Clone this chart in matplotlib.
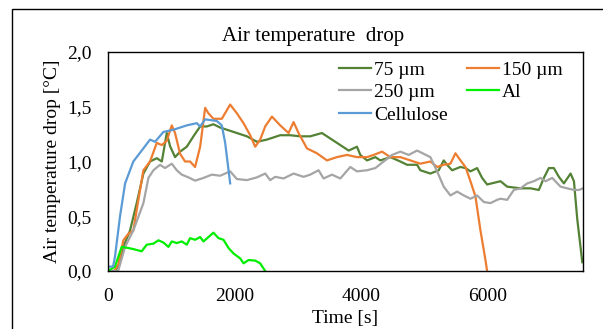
import numpy as np
import matplotlib
matplotlib.use("Agg")
import matplotlib.pyplot as plt
from matplotlib.patches import Rectangle

plt.rcParams['font.family'] = ['Liberation Serif', 'DejaVu Serif']

# 75 um
t75 = [0, 100, 163, 242, 348, 453, 559, 664, 770, 850, 928, 980, 1059, 1138, 1244, 1349,
       1455, 1560, 1665, 1771, 1877, 2035, 2193, 2351, 2509, 2719, 2877, 3035, 3193, 3378,
       3510, 3668, 3800, 3931, 3984, 4090, 4221, 4300, 4458, 4616, 4722, 4880, 4932, 5090,
       5222, 5301, 5354, 5433, 5565, 5644, 5723, 5828, 5907, 5986, 6197, 6303, 6514, 6672,
       6803, 6882, 6961, 7040, 7119, 7198, 7304, 7357, 7410, 7489]
v75 = [0.0, 0.0, 0.04, 0.22, 0.37, 0.62, 0.89, 1.0, 1.03, 1.0, 1.26, 1.14, 1.04, 1.09, 1.135, 1.23,
       1.32, 1.32, 1.34, 1.31, 1.29, 1.26, 1.23, 1.18, 1.20, 1.24, 1.24, 1.23, 1.23, 1.26,
       1.21, 1.15, 1.10, 1.135, 1.06, 1.01, 1.04, 1.01, 1.04, 1.0, 0.97, 0.97, 0.92, 0.89,
       0.92, 1.01, 0.97, 0.92, 0.95, 0.94, 0.91, 0.94, 0.85, 0.79, 0.82, 0.77, 0.755, 0.755,
       0.74, 0.85, 0.94, 0.94, 0.86, 0.80, 0.89, 0.82, 0.47, 0.08]

# 150 um
t150 = [0, 100, 163, 242, 321, 400, 480, 559, 664, 770, 850, 928, 1007, 1059, 1138, 1217,
        1296, 1375, 1455, 1534, 1586, 1665, 1797, 1929, 2035, 2140, 2245, 2324, 2403, 2482,
        2588, 2719, 2851, 2930, 3009, 3141, 3299, 3457, 3615, 3773, 3931, 4090, 4195, 4327,
        4458, 4616, 4774, 4932, 5090, 5196, 5301, 5407, 5486, 5565, 5644, 5723, 5802, 5881,
        5960, 5986]
v150 = [0.0, 0.0, 0.06, 0.28, 0.34, 0.37, 0.65, 0.92, 1.0, 1.17, 1.15, 1.19, 1.33, 1.26, 1.07, 1.0,
        1.0, 0.95, 1.135, 1.49, 1.44, 1.39, 1.39, 1.52, 1.44, 1.35, 1.24, 1.135, 1.20, 1.32,
        1.41, 1.33, 1.26, 1.36, 1.26, 1.12, 1.075, 1.01, 1.04, 1.06, 1.04, 1.04, 1.06, 1.09,
        1.04, 1.04, 1.01, 0.98, 1.0, 0.95, 0.97, 0.98, 1.075, 1.01, 0.95, 0.82, 0.68, 0.37,
        0.10, 0.0]

# 250 um
t250 = [0, 160, 270, 400, 559, 638, 717, 822, 900, 1007, 1086, 1165, 1270, 1375, 1507, 1639,
        1771, 1929, 2035, 2193, 2351, 2482, 2561, 2640, 2772, 2930, 3088, 3193, 3325, 3404,
        3536, 3668, 3826, 3931, 4090, 4221, 4353, 4485, 4616, 4748, 4880, 4985, 5090, 5196,
        5301, 5407, 5512, 5618, 5723, 5828, 5934, 6039, 6145, 6197, 6303, 6408, 6514, 6619,
        6724, 6830, 6909, 7014, 7146, 7251, 7357, 7436, 7500]
v250 = [0.0, 0.0, 0.22, 0.37, 0.62, 0.85, 0.92, 0.97, 0.94, 0.98, 0.92, 0.88, 0.855, 0.825, 0.85, 0.88,
        0.87, 0.91, 0.84, 0.83, 0.855, 0.89, 0.83, 0.86, 0.845, 0.89, 0.86, 0.88, 0.92, 0.845,
        0.88, 0.845, 0.95, 0.91, 0.92, 0.94, 1.0, 1.06, 1.09, 1.06, 1.10, 1.07, 1.04, 0.91,
        0.77, 0.69, 0.725, 0.69, 0.66, 0.69, 0.63, 0.62, 0.65, 0.66, 0.65, 0.74, 0.755, 0.80,
        0.82, 0.85, 0.82, 0.85, 0.77, 0.755, 0.74, 0.74, 0.755]

# Al
tal = [0, 110, 163, 216, 321, 400, 532, 611, 717, 796, 875, 954, 1007, 1086, 1165, 1244, 1296,
       1375, 1455, 1507, 1586, 1665, 1745, 1824, 1903, 1982, 2087, 2140, 2219, 2324, 2403, 2482]
val = [0.0, 0.04, 0.13, 0.22, 0.21, 0.20, 0.18, 0.24, 0.25, 0.28, 0.26, 0.22, 0.27, 0.255, 0.27, 0.24, 0.30,
       0.285, 0.31, 0.27, 0.31, 0.35, 0.30, 0.285, 0.21, 0.16, 0.115, 0.07, 0.10, 0.095, 0.07, 0.0]

# Cellulose
tcel = [0, 80, 110, 190, 270, 400, 506, 664, 743, 875, 1033, 1244, 1402, 1455, 1534, 1718, 1797, 1850, 1929]
vcel = [0.04, 0.04, 0.13, 0.5, 0.80, 1.0, 1.08, 1.20, 1.18, 1.27, 1.29, 1.33, 1.35, 1.32, 1.385, 1.37, 1.33, 1.17, 0.80]

fig = plt.figure(figsize=(6.03, 3.29), dpi=100)
ax = fig.add_axes([108/603, 1-271/329, (583-108)/603, (271-52)/329])

lw = 1.6
h75, = ax.plot(t75, v75, color='#548235', lw=lw, label='75 µm')
h150, = ax.plot(t150, v150, color='#ED7D31', lw=lw, label='150 µm')
h250, = ax.plot(t250, v250, color='#A5A5A5', lw=lw, label='250 µm')
hal, = ax.plot(tal, val, color='#00EE00', lw=lw, label='Al')
hcel, = ax.plot(tcel, vcel, color='#5B9BD5', lw=lw, label='Cellulose')

ax.set_xlim(0, 7500)
ax.set_ylim(0, 2.0)
ax.set_xticks([0, 2000, 4000, 6000])
ax.set_yticks([0, 0.5, 1.0, 1.5, 2.0])
ax.set_yticklabels(['0,0', '0,5', '1,0', '1,5', '2,0'])
ax.tick_params(length=0, labelsize=14)
ax.tick_params(axis='y', pad=12)
ax.tick_params(axis='x', pad=12)
for s in ax.spines.values():
    s.set_linewidth(1.0)
    s.set_color('black')

ax.set_xlabel('Time [s]', fontsize=14, labelpad=4)
ax.set_ylabel('Air temperature drop [°C]', fontsize=14, labelpad=4)
fig.text(313/603, 1-36/329, 'Air temperature  drop', fontsize=15, ha='center', va='center')

ax.legend([h75, h250, hcel, h150, hal], ['75 µm', '250 µm', 'Cellulose', '150 µm', 'Al'],
          ncol=2, loc='upper left', bbox_to_anchor=((339-108)/475, (271-61)/219),
          frameon=False, fontsize=14, borderpad=0, borderaxespad=0,
          handlelength=1.65, handletextpad=0.15, columnspacing=1.0, labelspacing=0.25)

fig.patches.append(Rectangle((12/603, -0.1), 1.2, 1.1 - 9/329, transform=fig.transFigure,
                             fill=False, edgecolor='black', lw=1.0))

fig.savefig('out.png', dpi=100)
